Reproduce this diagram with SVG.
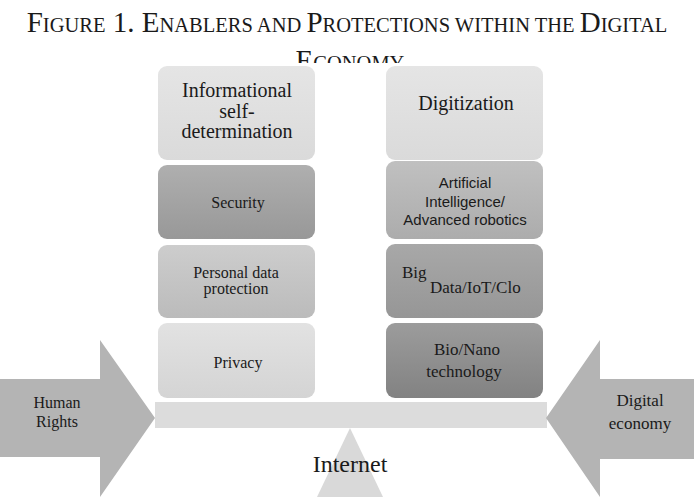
<svg xmlns="http://www.w3.org/2000/svg" width="694" height="497" viewBox="0 0 694 497">
<defs>
  <style>
    .serif{font-family:"Liberation Serif","Times New Roman",serif;fill:#1a1a1a;}
    .sans{font-family:"Liberation Sans",Arial,sans-serif;fill:#1a1a1a;}
    .c{text-anchor:middle;}
    .arrow{fill:#b4b4b4;}
    .sc{font-size:20.5px;}
  </style>
  <linearGradient id="gLight" x1="0" y1="0" x2="0" y2="1"><stop offset="0" stop-color="#e5e5e5"/><stop offset="1" stop-color="#dadada"/></linearGradient>
  <linearGradient id="gSec" x1="0" y1="0" x2="0" y2="1"><stop offset="0" stop-color="#afafaf"/><stop offset="1" stop-color="#989898"/></linearGradient>
  <linearGradient id="gPers" x1="0" y1="0" x2="0" y2="1"><stop offset="0" stop-color="#cdcdcd"/><stop offset="1" stop-color="#bbbbbb"/></linearGradient>
  <linearGradient id="gPriv" x1="0" y1="0" x2="0" y2="1"><stop offset="0" stop-color="#e2e2e2"/><stop offset="1" stop-color="#d4d4d4"/></linearGradient>
  <linearGradient id="gAI" x1="0" y1="0" x2="0" y2="1"><stop offset="0" stop-color="#c0c0c0"/><stop offset="1" stop-color="#acacac"/></linearGradient>
  <linearGradient id="gBig" x1="0" y1="0" x2="0" y2="1"><stop offset="0" stop-color="#a8a8a8"/><stop offset="1" stop-color="#969696"/></linearGradient>
  <linearGradient id="gBio" x1="0" y1="0" x2="0" y2="1"><stop offset="0" stop-color="#9c9c9c"/><stop offset="1" stop-color="#828282"/></linearGradient>
  <clipPath id="titleClip"><rect x="0" y="0" width="694" height="63"/></clipPath>
</defs>
<rect width="694" height="497" fill="#ffffff"/>

<g id="title" clip-path="url(#titleClip)">
  <text class="serif c" x="347" y="32" style="font-size:29px">F<tspan class="sc">IGURE</tspan> 1. E<tspan class="sc">NABLERS AND </tspan>P<tspan class="sc">ROTECTIONS WITHIN THE </tspan>D<tspan class="sc">IGITAL</tspan></text>
  <text class="serif c" x="350" y="70" style="font-size:29px">E<tspan class="sc">CONOMY</tspan></text>
</g>

<g id="triangle"><polygon points="350,428 317,497 383,497" fill="#d9d9d9"/></g>
<g id="internet-label"><text class="serif c" x="350" y="472" style="font-size:24px">Internet</text></g>

<g id="beam"><rect x="155" y="402" width="392" height="26" fill="#dcdcdc"/></g>

<g id="human-rights">
  <polygon class="arrow" points="0,379 100,379 100,340 155,418 100,497 100,457 0,457"/>
  <text class="serif c" x="57" y="408" style="font-size:16px">Human</text>
  <text class="serif c" x="57" y="427" style="font-size:16px">Rights</text>
</g>

<g id="digital-economy">
  <polygon class="arrow" points="694,379 600,379 600,340 546,418 600,497 600,459 694,459"/>
  <text class="serif c" x="640" y="406" style="font-size:17px">Digital</text>
  <text class="serif c" x="640" y="429" style="font-size:17px">economy</text>
</g>

<g id="informational">
  <rect x="158" y="66" width="157" height="94" rx="9" fill="url(#gLight)"/>
  <text class="serif c" x="237" y="97" style="font-size:20px">Informational</text>
  <text class="serif c" x="237" y="118" style="font-size:20px">self-</text>
  <text class="serif c" x="237" y="138" style="font-size:20px">determination</text>
</g>
<g id="security">
  <rect x="158" y="165" width="157" height="74" rx="9" fill="url(#gSec)"/>
  <text class="serif c" x="238" y="208" style="font-size:16px">Security</text>
</g>
<g id="personal-data">
  <rect x="158" y="245" width="157" height="73" rx="9" fill="url(#gPers)"/>
  <text class="serif c" x="236" y="278" style="font-size:16px">Personal data</text>
  <text class="serif c" x="236" y="294" style="font-size:16px">protection</text>
</g>
<g id="privacy">
  <rect x="158" y="323" width="157" height="75" rx="9" fill="url(#gPriv)"/>
  <text class="serif c" x="238" y="368" style="font-size:16px">Privacy</text>
</g>

<g id="digitization">
  <rect x="386" y="66" width="157" height="94" rx="9" fill="url(#gLight)"/>
  <text class="serif c" x="466" y="110" style="font-size:20px">Digitization</text>
</g>
<g id="ai">
  <rect x="386" y="161" width="157" height="78" rx="9" fill="url(#gAI)"/>
  <text class="sans c" x="465" y="188" style="font-size:15px">Artificial</text>
  <text class="sans c" x="465" y="207" style="font-size:15px">Intelligence/</text>
  <text class="sans c" x="465" y="225" style="font-size:15px">Advanced robotics</text>
</g>
<g id="big-data">
  <rect x="386" y="244" width="157" height="74" rx="9" fill="url(#gBig)"/>
  <text class="serif" x="402" y="278" style="font-size:17px">Big</text>
  <text class="serif" x="430" y="293" style="font-size:17px">Data/IoT/Clo</text>
</g>
<g id="bio-nano">
  <rect x="386" y="323" width="157" height="75" rx="9" fill="url(#gBio)"/>
  <text class="serif c" x="467" y="355" style="font-size:17px">Bio/Nano</text>
  <text class="serif c" x="464" y="377" style="font-size:17px">technology</text>
</g>
</svg>
